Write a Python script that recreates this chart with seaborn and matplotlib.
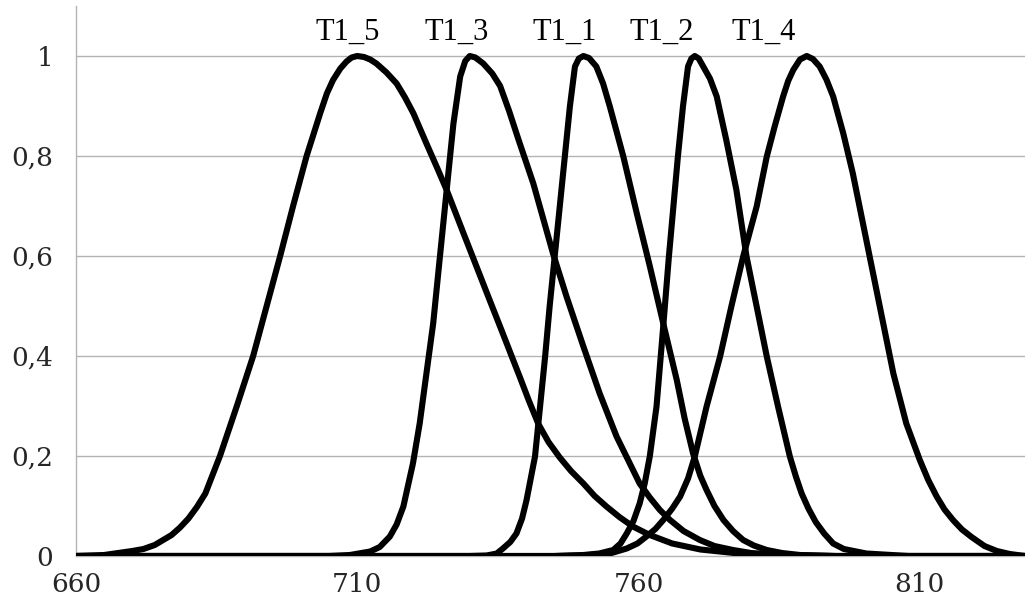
import matplotlib
matplotlib.use("Agg")
import matplotlib.pyplot as plt
import numpy as np
import pandas as pd
import seaborn as sns

# Curves (wavelength vs normalised response)
T1_5_X = [660, 665, 670, 672, 674, 677, 678.5, 680, 681.5, 683, 685.6, 688.6, 691.5,
          693.9, 696.3, 698.6, 701.0, 703.4, 704.6, 705.7, 707.0, 708.1, 709.0, 710.0,
          711.2, 712.3, 713.4, 715.2, 717.0, 718.5, 720.0, 722.3, 724.1, 725.9, 728.8,
          731.2, 733.6, 735.6, 737.3, 738.9, 740.5, 742.2, 744.0, 746.0, 748.0, 750.2,
          752.2, 754.3, 756.6, 759.0, 762.0, 766, 771, 777, 782, 790, 830]
T1_5_Y = [0, 0.002, 0.01, 0.014, 0.022, 0.042, 0.057, 0.075, 0.098, 0.125, 0.2, 0.3, 0.4,
          0.5, 0.6, 0.7, 0.8, 0.885, 0.925, 0.952, 0.975, 0.989, 0.997, 1.0,
          0.998, 0.993, 0.985, 0.967, 0.945, 0.917, 0.885, 0.825, 0.779, 0.732, 0.648,
          0.579, 0.51, 0.453, 0.404, 0.358, 0.311, 0.264, 0.228, 0.197, 0.17, 0.145,
          0.12, 0.099, 0.078, 0.059, 0.042, 0.025, 0.013, 0.006, 0.003, 0.0, 0.0]

T1_3_X = [660, 705, 708.7, 712.3, 714.0, 715.8, 717.0, 718.2, 719.9, 721.1, 722.3, 723.5,
          724.7, 725.9, 726.5, 727.1, 728.3, 729.2, 730.0, 731.0, 732.4, 734.0, 735.4,
          737.0, 738.6, 741.3, 744.8, 747.2, 750.2, 753.1, 756.1, 760.2, 762.0, 763.8,
          765.6, 768.0, 770.9, 773.5, 776.8, 780.0, 785.7, 795, 830]
T1_3_Y = [0, 0, 0.002, 0.009, 0.018, 0.039, 0.063, 0.099, 0.185, 0.265, 0.365, 0.465,
          0.599, 0.732, 0.799, 0.865, 0.959, 0.99, 1.0, 0.997, 0.985, 0.965, 0.94,
          0.89, 0.835, 0.745, 0.605, 0.519, 0.419, 0.325, 0.239, 0.145, 0.117, 0.092,
          0.072, 0.05, 0.032, 0.02, 0.012, 0.006, 0.002, 0, 0]

T1_1_X = [660, 730, 733.0, 734.8, 735.9, 737.2, 738.3, 739.3, 740.1, 741.6, 742.5, 743.4,
          744.2, 745.1, 746.0, 746.9, 747.8, 748.7, 749.4, 750.2, 751.2, 752.5, 753.7,
          754.9, 757.3, 759.7, 762.0, 764.4, 766.8, 768.2, 769.7, 771.0, 772.1, 773.5,
          775.1, 776.8, 778.6, 780.5, 782.8, 785.5, 788.7, 795, 830]
T1_1_Y = [0, 0, 0.001, 0.005, 0.015, 0.028, 0.045, 0.075, 0.112, 0.199, 0.299, 0.399,
          0.499, 0.599, 0.699, 0.799, 0.899, 0.979, 0.995, 1.0, 0.996, 0.979, 0.945,
          0.899, 0.799, 0.685, 0.58, 0.465, 0.352, 0.275, 0.205, 0.16, 0.132, 0.1,
          0.072, 0.05, 0.032, 0.021, 0.012, 0.006, 0.002, 0, 0]

T1_2_X = [660, 745, 750.2, 753.0, 755.5, 756.8, 757.9, 759.1, 760.2, 761.1, 762.0, 763.2,
          764.4, 765.4, 766.2, 767.0, 767.9, 768.8, 769.4, 770.0, 770.7, 771.5, 772.7,
          773.9, 775.6, 777.4, 779.2, 781.0, 782.8, 784.8, 786.9, 788.0, 789.0, 790.2,
          791.5, 793.0, 794.6, 796.5, 800.5, 808, 830]
T1_2_Y = [0, 0, 0.002, 0.005, 0.012, 0.025, 0.045, 0.07, 0.105, 0.145, 0.199, 0.299,
          0.46, 0.599, 0.699, 0.799, 0.899, 0.979, 0.995, 1.0, 0.995, 0.979, 0.955,
          0.919, 0.832, 0.732, 0.599, 0.499, 0.399, 0.299, 0.199, 0.158, 0.125, 0.095,
          0.068, 0.045, 0.025, 0.014, 0.005, 0, 0]

T1_4_X = [660, 745, 750.0, 754.9, 757.9, 759.8, 761.4, 763.0, 764.4, 766.0, 767.4, 768.8,
          770.0, 772.1, 774.5, 776.5, 778.6, 781.0, 782.8, 784.2, 785.7, 786.6, 787.5,
          788.7, 789.9, 791.0, 792.2, 793.4, 794.6, 796.4, 798.1, 799.9, 801.7, 803.5,
          805.3, 807.6, 810.0, 811.5, 813.0, 814.4, 815.9, 817.5, 819.2, 821.5, 823.7,
          826.0, 828.7, 830]
T1_4_Y = [0, 0, 0.001, 0.005, 0.015, 0.025, 0.039, 0.054, 0.072, 0.095, 0.119, 0.155,
          0.199, 0.299, 0.399, 0.499, 0.599, 0.699, 0.799, 0.859, 0.919, 0.95, 0.972,
          0.993, 1.0, 0.994, 0.979, 0.953, 0.919, 0.845, 0.765, 0.665, 0.565, 0.465,
          0.365, 0.265, 0.192, 0.152, 0.119, 0.093, 0.072, 0.053, 0.038, 0.02, 0.01,
          0.004, 0, 0]

SERIES = {
    "T1_5": (T1_5_X, T1_5_Y),
    "T1_3": (T1_3_X, T1_3_Y),
    "T1_1": (T1_1_X, T1_1_Y),
    "T1_2": (T1_2_X, T1_2_Y),
    "T1_4": (T1_4_X, T1_4_Y),
}
LABEL_X = [708.3, 727.6, 746.8, 764.2, 782.3]

X_TICKS = [660, 710, 760, 810]
Y_TICKS = [0, 0.2, 0.4, 0.6, 0.8, 1.0]
Y_TICK_LABELS = ["0", "0,2", "0,4", "0,6", "0,8", "1"]


def build_frame():
    rows = []
    for name, (xs, ys) in SERIES.items():
        for x, y in zip(xs, ys):
            rows.append({"wavelength": x, "value": y, "series": name})
    return pd.DataFrame(rows)


def create_plot():
    sns.set_style("white")
    df = build_frame()

    fig = plt.figure(figsize=(10.25, 6.06), dpi=100)
    ax = fig.add_axes([0.0741, 0.0825, 0.9259, 0.9076])

    grid_col = "#b3b3b3"
    for y in Y_TICKS[1:]:
        ax.axhline(y, color=grid_col, linewidth=1.0, zorder=0)

    sns.lineplot(data=df, x="wavelength", y="value", hue="series",
                 palette=["black"] * len(SERIES), estimator=None, legend=False,
                 linewidth=4.4, solid_joinstyle="round", solid_capstyle="butt",
                 ax=ax, zorder=3)

    ax.set_xlim(660, 828.7)
    ax.set_ylim(0, 1.1)
    ax.set_xticks(X_TICKS)
    ax.set_yticks(Y_TICKS)
    ax.set_yticklabels(Y_TICK_LABELS)
    ax.set_xlabel("")
    ax.set_ylabel("")

    for side in ["top", "right"]:
        ax.spines[side].set_visible(False)
    for side in ["left", "bottom"]:
        ax.spines[side].set_color(grid_col)
        ax.spines[side].set_linewidth(1.0)
    ax.spines["bottom"].set_zorder(1)

    ax.tick_params(axis="both", direction="out", color=grid_col, width=1.0,
                   length=6.5, labelsize=19)
    ax.tick_params(axis="y", pad=10)
    ax.tick_params(axis="x", pad=5)
    for lab in ax.get_xticklabels() + ax.get_yticklabels():
        lab.set_family("DejaVu Serif")

    for name, lx in zip(SERIES.keys(), LABEL_X):
        ax.text(lx, 1.032, name, ha="center", va="baseline",
                fontsize=22, family="Liberation Serif", color="black")

    fig.savefig("out.png", dpi=100)
    plt.close(fig)


if __name__ == "__main__":
    create_plot()
